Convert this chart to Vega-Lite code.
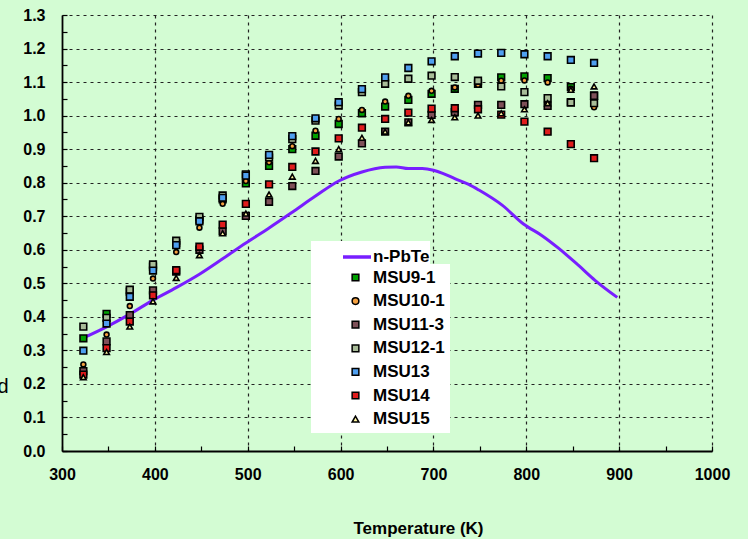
{
  "$schema": "https://vega.github.io/schema/vega-lite/v6.json",
  "width": 650,
  "height": 436,
  "autosize": {"type": "none"},
  "padding": {"left": 62, "top": 15, "right": 36, "bottom": 88},
  "background": "#d3fcd3",
  "config": {
    "view": {"stroke": null},
    "font": "Liberation Sans",
    "axis": {"labelFont": "Liberation Sans", "titleFont": "Liberation Sans"},
    "legend": {"labelFont": "Liberation Sans"}
  },
  "data": {
    "values": [
      {"series": "n-PbTe", "T": 323, "v": 0.337},
      {"series": "n-PbTe", "T": 348, "v": 0.370},
      {"series": "n-PbTe", "T": 373, "v": 0.408},
      {"series": "n-PbTe", "T": 398, "v": 0.450},
      {"series": "n-PbTe", "T": 423, "v": 0.487},
      {"series": "n-PbTe", "T": 448, "v": 0.527},
      {"series": "n-PbTe", "T": 473, "v": 0.573},
      {"series": "n-PbTe", "T": 498, "v": 0.620},
      {"series": "n-PbTe", "T": 523, "v": 0.665},
      {"series": "n-PbTe", "T": 548, "v": 0.712},
      {"series": "n-PbTe", "T": 573, "v": 0.760},
      {"series": "n-PbTe", "T": 598, "v": 0.805},
      {"series": "n-PbTe", "T": 623, "v": 0.832},
      {"series": "n-PbTe", "T": 648, "v": 0.846},
      {"series": "n-PbTe", "T": 660, "v": 0.847},
      {"series": "n-PbTe", "T": 673, "v": 0.842},
      {"series": "n-PbTe", "T": 688, "v": 0.842},
      {"series": "n-PbTe", "T": 700, "v": 0.837},
      {"series": "n-PbTe", "T": 710, "v": 0.828},
      {"series": "n-PbTe", "T": 723, "v": 0.812},
      {"series": "n-PbTe", "T": 738, "v": 0.795},
      {"series": "n-PbTe", "T": 749, "v": 0.778},
      {"series": "n-PbTe", "T": 774, "v": 0.733},
      {"series": "n-PbTe", "T": 797, "v": 0.677},
      {"series": "n-PbTe", "T": 817, "v": 0.642},
      {"series": "n-PbTe", "T": 835, "v": 0.604},
      {"series": "n-PbTe", "T": 856, "v": 0.554},
      {"series": "n-PbTe", "T": 874, "v": 0.509},
      {"series": "n-PbTe", "T": 898, "v": 0.458},

      {"series": "MSU9-1", "T": 323, "v": 0.336},
      {"series": "MSU9-1", "T": 348, "v": 0.409},
      {"series": "MSU9-1", "T": 373, "v": 0.475},
      {"series": "MSU9-1", "T": 398, "v": 0.550},
      {"series": "MSU9-1", "T": 423, "v": 0.620},
      {"series": "MSU9-1", "T": 448, "v": 0.690},
      {"series": "MSU9-1", "T": 473, "v": 0.750},
      {"series": "MSU9-1", "T": 498, "v": 0.798},
      {"series": "MSU9-1", "T": 523, "v": 0.850},
      {"series": "MSU9-1", "T": 548, "v": 0.900},
      {"series": "MSU9-1", "T": 573, "v": 0.940},
      {"series": "MSU9-1", "T": 598, "v": 0.975},
      {"series": "MSU9-1", "T": 623, "v": 1.007},
      {"series": "MSU9-1", "T": 648, "v": 1.027},
      {"series": "MSU9-1", "T": 673, "v": 1.047},
      {"series": "MSU9-1", "T": 698, "v": 1.065},
      {"series": "MSU9-1", "T": 723, "v": 1.080},
      {"series": "MSU9-1", "T": 748, "v": 1.095},
      {"series": "MSU9-1", "T": 773, "v": 1.114},
      {"series": "MSU9-1", "T": 798, "v": 1.117},
      {"series": "MSU9-1", "T": 823, "v": 1.112},
      {"series": "MSU9-1", "T": 848, "v": 1.085},
      {"series": "MSU9-1", "T": 873, "v": 1.060},

      {"series": "MSU10-1", "T": 323, "v": 0.258},
      {"series": "MSU10-1", "T": 348, "v": 0.347},
      {"series": "MSU10-1", "T": 373, "v": 0.432},
      {"series": "MSU10-1", "T": 398, "v": 0.514},
      {"series": "MSU10-1", "T": 423, "v": 0.593},
      {"series": "MSU10-1", "T": 448, "v": 0.666},
      {"series": "MSU10-1", "T": 473, "v": 0.737},
      {"series": "MSU10-1", "T": 498, "v": 0.805},
      {"series": "MSU10-1", "T": 523, "v": 0.861},
      {"series": "MSU10-1", "T": 548, "v": 0.909},
      {"series": "MSU10-1", "T": 573, "v": 0.955},
      {"series": "MSU10-1", "T": 598, "v": 0.990},
      {"series": "MSU10-1", "T": 623, "v": 1.017},
      {"series": "MSU10-1", "T": 648, "v": 1.042},
      {"series": "MSU10-1", "T": 673, "v": 1.059},
      {"series": "MSU10-1", "T": 698, "v": 1.074},
      {"series": "MSU10-1", "T": 723, "v": 1.084},
      {"series": "MSU10-1", "T": 748, "v": 1.092},
      {"series": "MSU10-1", "T": 773, "v": 1.104},
      {"series": "MSU10-1", "T": 798, "v": 1.105},
      {"series": "MSU10-1", "T": 823, "v": 1.099},
      {"series": "MSU10-1", "T": 848, "v": 1.080},
      {"series": "MSU10-1", "T": 873, "v": 1.025},

      {"series": "MSU11-3", "T": 323, "v": 0.238},
      {"series": "MSU11-3", "T": 348, "v": 0.327},
      {"series": "MSU11-3", "T": 373, "v": 0.405},
      {"series": "MSU11-3", "T": 398, "v": 0.479},
      {"series": "MSU11-3", "T": 423, "v": 0.535},
      {"series": "MSU11-3", "T": 448, "v": 0.600},
      {"series": "MSU11-3", "T": 473, "v": 0.655},
      {"series": "MSU11-3", "T": 498, "v": 0.701},
      {"series": "MSU11-3", "T": 523, "v": 0.743},
      {"series": "MSU11-3", "T": 548, "v": 0.790},
      {"series": "MSU11-3", "T": 573, "v": 0.835},
      {"series": "MSU11-3", "T": 598, "v": 0.878},
      {"series": "MSU11-3", "T": 623, "v": 0.917},
      {"series": "MSU11-3", "T": 648, "v": 0.952},
      {"series": "MSU11-3", "T": 673, "v": 0.980},
      {"series": "MSU11-3", "T": 698, "v": 1.002},
      {"series": "MSU11-3", "T": 723, "v": 1.010},
      {"series": "MSU11-3", "T": 748, "v": 1.032},
      {"series": "MSU11-3", "T": 773, "v": 1.032},
      {"series": "MSU11-3", "T": 798, "v": 1.034},
      {"series": "MSU11-3", "T": 823, "v": 1.029},
      {"series": "MSU11-3", "T": 848, "v": 1.040},
      {"series": "MSU11-3", "T": 873, "v": 1.059},

      {"series": "MSU12-1", "T": 323, "v": 0.371},
      {"series": "MSU12-1", "T": 348, "v": 0.397},
      {"series": "MSU12-1", "T": 373, "v": 0.481},
      {"series": "MSU12-1", "T": 398, "v": 0.556},
      {"series": "MSU12-1", "T": 423, "v": 0.627},
      {"series": "MSU12-1", "T": 448, "v": 0.698},
      {"series": "MSU12-1", "T": 473, "v": 0.762},
      {"series": "MSU12-1", "T": 498, "v": 0.825},
      {"series": "MSU12-1", "T": 523, "v": 0.875},
      {"series": "MSU12-1", "T": 548, "v": 0.930},
      {"series": "MSU12-1", "T": 573, "v": 0.985},
      {"series": "MSU12-1", "T": 598, "v": 1.030},
      {"series": "MSU12-1", "T": 623, "v": 1.070},
      {"series": "MSU12-1", "T": 648, "v": 1.095},
      {"series": "MSU12-1", "T": 673, "v": 1.110},
      {"series": "MSU12-1", "T": 698, "v": 1.119},
      {"series": "MSU12-1", "T": 723, "v": 1.115},
      {"series": "MSU12-1", "T": 748, "v": 1.104},
      {"series": "MSU12-1", "T": 773, "v": 1.087},
      {"series": "MSU12-1", "T": 798, "v": 1.070},
      {"series": "MSU12-1", "T": 823, "v": 1.052},
      {"series": "MSU12-1", "T": 848, "v": 1.039},
      {"series": "MSU12-1", "T": 873, "v": 1.037},

      {"series": "MSU13", "T": 323, "v": 0.299},
      {"series": "MSU13", "T": 348, "v": 0.380},
      {"series": "MSU13", "T": 373, "v": 0.460},
      {"series": "MSU13", "T": 398, "v": 0.538},
      {"series": "MSU13", "T": 423, "v": 0.614},
      {"series": "MSU13", "T": 448, "v": 0.685},
      {"series": "MSU13", "T": 473, "v": 0.755},
      {"series": "MSU13", "T": 498, "v": 0.821},
      {"series": "MSU13", "T": 523, "v": 0.883},
      {"series": "MSU13", "T": 548, "v": 0.939},
      {"series": "MSU13", "T": 573, "v": 0.992},
      {"series": "MSU13", "T": 598, "v": 1.040},
      {"series": "MSU13", "T": 623, "v": 1.079},
      {"series": "MSU13", "T": 648, "v": 1.114},
      {"series": "MSU13", "T": 673, "v": 1.142},
      {"series": "MSU13", "T": 698, "v": 1.162},
      {"series": "MSU13", "T": 723, "v": 1.177},
      {"series": "MSU13", "T": 748, "v": 1.185},
      {"series": "MSU13", "T": 773, "v": 1.187},
      {"series": "MSU13", "T": 798, "v": 1.183},
      {"series": "MSU13", "T": 823, "v": 1.177},
      {"series": "MSU13", "T": 848, "v": 1.166},
      {"series": "MSU13", "T": 873, "v": 1.157},

      {"series": "MSU14", "T": 323, "v": 0.228},
      {"series": "MSU14", "T": 348, "v": 0.307},
      {"series": "MSU14", "T": 373, "v": 0.386},
      {"series": "MSU14", "T": 398, "v": 0.464},
      {"series": "MSU14", "T": 423, "v": 0.539},
      {"series": "MSU14", "T": 448, "v": 0.609},
      {"series": "MSU14", "T": 473, "v": 0.675},
      {"series": "MSU14", "T": 498, "v": 0.737},
      {"series": "MSU14", "T": 523, "v": 0.795},
      {"series": "MSU14", "T": 548, "v": 0.847},
      {"series": "MSU14", "T": 573, "v": 0.893},
      {"series": "MSU14", "T": 598, "v": 0.932},
      {"series": "MSU14", "T": 623, "v": 0.964},
      {"series": "MSU14", "T": 648, "v": 0.990},
      {"series": "MSU14", "T": 673, "v": 1.009},
      {"series": "MSU14", "T": 698, "v": 1.021},
      {"series": "MSU14", "T": 723, "v": 1.022},
      {"series": "MSU14", "T": 748, "v": 1.019},
      {"series": "MSU14", "T": 773, "v": 1.003},
      {"series": "MSU14", "T": 798, "v": 0.982},
      {"series": "MSU14", "T": 823, "v": 0.952},
      {"series": "MSU14", "T": 848, "v": 0.915},
      {"series": "MSU14", "T": 873, "v": 0.873},

      {"series": "MSU15", "T": 323, "v": 0.220},
      {"series": "MSU15", "T": 348, "v": 0.295},
      {"series": "MSU15", "T": 373, "v": 0.371},
      {"series": "MSU15", "T": 398, "v": 0.446},
      {"series": "MSU15", "T": 423, "v": 0.516},
      {"series": "MSU15", "T": 448, "v": 0.584},
      {"series": "MSU15", "T": 473, "v": 0.649},
      {"series": "MSU15", "T": 498, "v": 0.708},
      {"series": "MSU15", "T": 523, "v": 0.765},
      {"series": "MSU15", "T": 548, "v": 0.818},
      {"series": "MSU15", "T": 573, "v": 0.865},
      {"series": "MSU15", "T": 598, "v": 0.900},
      {"series": "MSU15", "T": 623, "v": 0.934},
      {"series": "MSU15", "T": 648, "v": 0.952},
      {"series": "MSU15", "T": 673, "v": 0.980},
      {"series": "MSU15", "T": 698, "v": 0.987},
      {"series": "MSU15", "T": 723, "v": 0.995},
      {"series": "MSU15", "T": 748, "v": 1.000},
      {"series": "MSU15", "T": 773, "v": 1.007},
      {"series": "MSU15", "T": 798, "v": 1.019},
      {"series": "MSU15", "T": 823, "v": 1.037},
      {"series": "MSU15", "T": 848, "v": 1.077},
      {"series": "MSU15", "T": 873, "v": 1.087}
    ]
  },
  "encoding": {
    "x": {
      "field": "T", "type": "quantitative",
      "scale": {"domain": [300, 1000], "nice": false, "zero": false},
      "axis": {
        "title": "Temperature (K)",
        "values": [300, 350, 400, 450, 500, 550, 600, 650, 700, 750, 800, 850, 900, 950, 1000],
        "labelExpr": "datum.value % 100 == 0 ? datum.value : ''",
        "labelFontSize": 16, "labelFontWeight": "bold", "labelColor": "black",
        "labelPadding": 20, "labelFlush": false, "labelOverlap": false,
        "tickSize": -5, "tickColor": "black", "tickWidth": 1.2,
        "domainColor": "black", "domainWidth": 1.8,
        "grid": true, "gridColor": "#222222", "gridDash": [3, 4], "gridWidth": 1.2,
        "gridOpacity": {"condition": {"test": "datum.value % 100 == 0 && datum.value > 300", "value": 1}, "value": 0},
        "titleFontSize": 17, "titleFontWeight": "bold", "titleColor": "black",
        "titleX": 356, "titleY": 77, "titleBaseline": "middle"
      }
    },
    "y": {
      "field": "v", "type": "quantitative",
      "scale": {"domain": [0, 1.3], "nice": false},
      "axis": {
        "title": "d",
        "values": [0, 0.05, 0.1, 0.15, 0.2, 0.25, 0.3, 0.35, 0.4, 0.45, 0.5, 0.55, 0.6, 0.65, 0.7, 0.75, 0.8, 0.85, 0.9, 0.95, 1.0, 1.05, 1.1, 1.15, 1.2, 1.25, 1.3],
        "labelExpr": "round(datum.value * 20) % 2 == 0 ? format(datum.value, '.1f') : ''",
        "labelFontSize": 16, "labelFontWeight": "bold", "labelColor": "black",
        "labelPadding": 22, "labelFlush": false, "labelOverlap": false,
        "tickSize": -5, "tickColor": "black", "tickWidth": 1.2,
        "domainColor": "black", "domainWidth": 1.8,
        "grid": true, "gridColor": "#222222", "gridDash": [3, 4], "gridWidth": 1.2,
        "gridOpacity": {"condition": {"test": "round(datum.value * 20) % 2 == 0 && datum.value > 0", "value": 1}, "value": 0},
        "titleAngle": 0, "titleFontSize": 20, "titleFontWeight": "normal", "titleColor": "black",
        "titleAlign": "right", "titleBaseline": "alphabetic", "titleX": -54, "titleY": 377
      }
    }
  },
  "layer": [
    {
      "transform": [{"filter": "datum.series == 'n-PbTe'"}],
      "mark": {"type": "line", "strokeWidth": 3, "interpolate": "monotone"},
      "encoding": {
        "color": {
          "field": "series", "type": "nominal",
          "scale": {"domain": ["n-PbTe"], "range": ["#781eff"]},
          "legend": {
            "title": null,
            "orient": "none", "legendX": 249, "legendY": 226,
            "fillColor": "white", "strokeColor": null, "padding": 0,
            "labelFontSize": 17, "labelFontWeight": "bold", "labelColor": "black",
            "labelExpr": "datum.label + '    '",
            "symbolType": "stroke", "symbolSize": 784, "symbolStrokeWidth": 3.5,
            "symbolStrokeColor": "#781eff",
            "labelOffset": 0, "symbolOffset": 30
          }
        }
      }
    },
    {
      "transform": [{"filter": "datum.series != 'n-PbTe'"}],
      "mark": {"type": "point", "filled": true, "stroke": "black", "strokeWidth": 1.6, "opacity": 1},
      "encoding": {
        "color": {
          "field": "series", "type": "nominal",
          "scale": {
            "domain": ["MSU9-1", "MSU10-1", "MSU11-3", "MSU12-1", "MSU13", "MSU14", "MSU15"],
            "range": ["#00a000", "#f4a040", "#7e5058", "#a8bc98", "#4f9ff0", "#e01c1c", "#fff5a0"]
          },
          "legend": {
            "title": null,
            "orient": "none", "legendX": 249, "legendY": 249,
            "fillColor": "white", "strokeColor": null, "padding": 5,
            "labelFontSize": 17, "labelFontWeight": "bold", "labelColor": "black",
            "symbolSize": 45, "symbolStrokeColor": "black", "symbolStrokeWidth": 1.5,
            "rowPadding": 5.6, "labelOffset": 9, "symbolOffset": 31
          }
        },
        "shape": {
          "field": "series", "type": "nominal",
          "scale": {
            "domain": ["MSU9-1", "MSU10-1", "MSU11-3", "MSU12-1", "MSU13", "MSU14", "MSU15"],
            "range": ["square", "circle", "square", "square", "square", "square", "triangle-up"]
          },
          "legend": {
            "title": null,
            "orient": "none", "legendX": 249, "legendY": 249,
            "fillColor": "white", "strokeColor": null, "padding": 5,
            "labelFontSize": 17, "labelFontWeight": "bold", "labelColor": "black",
            "symbolSize": 45, "symbolStrokeColor": "black", "symbolStrokeWidth": 1.5,
            "rowPadding": 5.6, "labelOffset": 9, "symbolOffset": 31
          }
        },
        "size": {
          "condition": [
            {"test": "datum.series == 'MSU10-1'", "value": 24},
            {"test": "datum.series == 'MSU15'", "value": 32}
          ],
          "value": 45
        }
      }
    }
  ],
  "resolve": {"scale": {"color": "independent", "shape": "independent"}, "legend": {"color": "independent", "shape": "independent"}}
}
